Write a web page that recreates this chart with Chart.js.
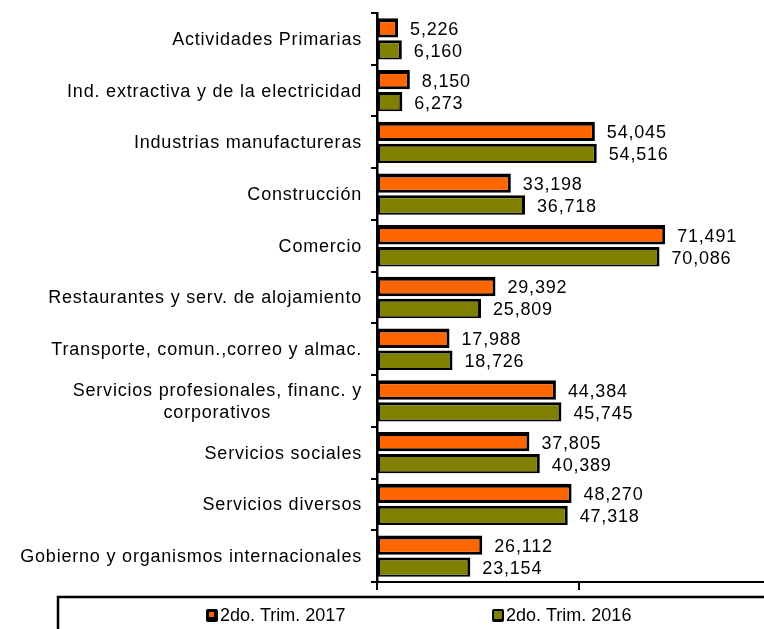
<!DOCTYPE html>
<html>
<head>
<meta charset="utf-8">
<script src="https://cdn.jsdelivr.net/npm/chart.js@4"></script>
<style>
  html, body { margin: 0; padding: 0; background: #fff; overflow: hidden; }
  canvas { display: block; }
</style>
</head>
<body>
<canvas id="chart" width="764" height="629"></canvas>
<script>
// categories and values
const categories = [
  'Actividades Primarias',
  'Ind. extractiva y de la electricidad',
  'Industrias manufactureras',
  'Construcción',
  'Comercio',
  'Restaurantes y serv. de alojamiento',
  'Transporte, comun.,correo y almac.',
  ['Servicios profesionales, financ. y', 'corporativos'],
  'Servicios sociales',
  'Servicios diversos',
  'Gobierno y organismos internacionales'
];
const trim2017 = [5226, 8150, 54045, 33198, 71491, 29392, 17988, 44384, 37805, 48270, 26112];
const trim2016 = [6160, 6273, 54516, 36718, 70086, 25809, 18726, 45745, 40389, 47318, 23154];
const seriesNames = ['2do. Trim. 2017', '2do. Trim. 2016'];
const xTicks = [0, 50000];

const FONT = '18px "Liberation Sans", Arial, sans-serif';

const fmt = v => v.toLocaleString('en-US');

// labels on the left, centred lines like the original
const yLabels = {
  id: 'yLabels',
  afterDraw(chart) {
    const ctx = chart.ctx;
    const ys = chart.scales.y;
    ctx.save();
    ctx.font = FONT;
    ctx.letterSpacing = '0.8px';
    ctx.fillStyle = '#000';
    ctx.textBaseline = 'middle';
    const right = ys.right - 15;
    ys.ticks.forEach((t, i) => {
      const lbl = chart.data.labels[i];
      const y = ys.getPixelForTick(i) + 1;
      if (Array.isArray(lbl)) {
        const w = Math.max(...lbl.map(s => ctx.measureText(s).width));
        ctx.textAlign = 'center';
        lbl.forEach((s, k) => {
          ctx.fillText(s, right - w / 2, y + (k - (lbl.length - 1) / 2) * 22);
        });
      } else {
        ctx.textAlign = 'right';
        ctx.fillText(lbl, right, y);
      }
    });
    ctx.restore();
  }
};

const valueLabels = {
  id: 'valueLabels',
  afterDatasetsDraw(chart) {
    const ctx = chart.ctx;
    ctx.save();
    ctx.font = FONT;
    ctx.letterSpacing = '0.8px';
    ctx.fillStyle = '#000';
    ctx.textAlign = 'left';
    ctx.textBaseline = 'middle';
    chart.data.datasets.forEach((ds, di) => {
      chart.getDatasetMeta(di).data.forEach((bar, i) => {
        ctx.fillText(fmt(ds.data[i]), bar.x + 12, bar.y + 2);
      });
    });
    ctx.restore();
  }
};

const boxLegend = {
  id: 'boxLegend',
  afterDraw(chart) {
    const ctx = chart.ctx;
    ctx.save();
    ctx.strokeStyle = '#000';
    ctx.lineWidth = 2.5;
    ctx.strokeRect(58, 597, 740, 60);
    ctx.font = FONT;
    ctx.textBaseline = 'middle';
    ctx.textAlign = 'left';
    const xs = [206, 492];
    const inner = [[3, 3, 5, 5], [2, 2, 8, 8]];
    chart.data.datasets.forEach((ds, i) => {
      const x = xs[i];
      const [ix, iy, iw, ih] = inner[i];
      ctx.fillStyle = '#000';
      ctx.beginPath();
      ctx.roundRect(x, 609, 12, 13, 2);
      ctx.fill();
      ctx.fillStyle = ds.backgroundColor;
      ctx.fillRect(x + ix, 609 + iy, iw, ih);
      ctx.fillStyle = '#000';
      ctx.fillText(ds.label, x + 14, 616);
    });
    ctx.restore();
  }
};

new Chart(document.getElementById('chart'), {
  type: 'bar',
  data: {
    labels: categories,
    datasets: [
      {
        label: seriesNames[0],
        data: trim2017,
        backgroundColor: '#FF6600',
        borderColor: '#000',
        borderWidth: { top: 4, left: 2, right: 3, bottom: 3 },
        borderSkipped: false,
        categoryPercentage: 0.85,
        barPercentage: 0.88
      },
      {
        label: seriesNames[1],
        data: trim2016,
        backgroundColor: '#808000',
        borderColor: '#000',
        borderWidth: { top: 3, left: 2, right: 3, bottom: 2 },
        borderSkipped: false,
        categoryPercentage: 0.85,
        barPercentage: 0.88
      }
    ]
  },
  options: {
    indexAxis: 'y',
    responsive: false,
    animation: false,
    layout: { padding: { top: 13, bottom: 39, right: 0, left: 0 } },
    plugins: {
      legend: { display: false },
      tooltip: { enabled: false },
      title: { display: false }
    },
    scales: {
      x: {
        min: 0,
        max: 96000,
        afterBuildTicks: scale => { scale.ticks = xTicks.map(v => ({ value: v })); },
        afterFit: scale => { scale.height = 8; },
        ticks: { display: false },
        grid: { drawOnChartArea: false, tickLength: 8, color: '#000', lineWidth: 2 },
        border: { color: '#000', width: 2 }
      },
      y: {
        afterFit: scale => { scale.width = 377; },
        ticks: { display: false },
        grid: { offset: true, drawOnChartArea: false, tickLength: 6, color: '#000', lineWidth: 2 },
        border: { color: '#000', width: 2.5 }
      }
    }
  },
  plugins: [yLabels, valueLabels, boxLegend]
});
</script>
</body>
</html>
